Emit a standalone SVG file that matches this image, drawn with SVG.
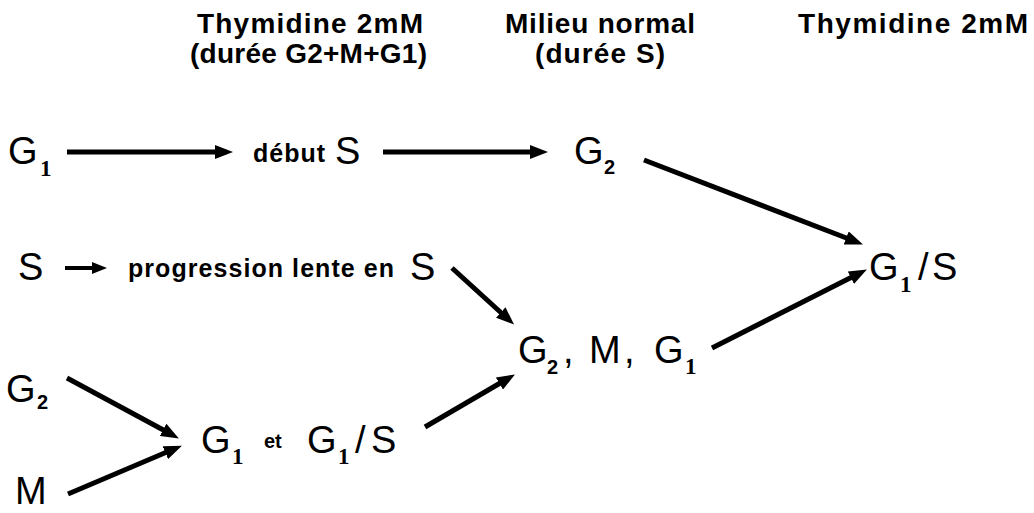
<svg xmlns="http://www.w3.org/2000/svg" width="1034" height="513" viewBox="0 0 1034 513">
<style>
.hd{font-family:"Liberation Sans",Arial,sans-serif;font-weight:bold;font-size:28px;fill:#000}
.big{font-family:"Liberation Sans",Arial,sans-serif;font-size:38px;fill:#000}
.sm{font-family:"Liberation Sans",Arial,sans-serif;font-weight:bold;font-size:25px;fill:#000}
.sub1{font-family:"Liberation Serif","Times New Roman",serif;font-weight:bold;font-size:23px;fill:#000}
.sub2{font-family:"Liberation Sans",Arial,sans-serif;font-weight:bold;font-size:20px;fill:#000}
.ar{stroke:#000;stroke-width:5;fill:none;marker-end:url(#ah)}
.ar2{stroke:#000;stroke-width:4;fill:none;marker-end:url(#ah2)}
</style>
<defs>
<marker id="ah" markerUnits="userSpaceOnUse" markerWidth="18" markerHeight="14" refX="3" refY="7" orient="auto">
<path d="M0,0 L18,7 L0,14 Z" fill="#000"/>
</marker>
<marker id="ah2" markerUnits="userSpaceOnUse" markerWidth="15" markerHeight="12" refX="3" refY="6" orient="auto">
<path d="M0,0 L15,6 L0,12 Z" fill="#000"/>
</marker>
</defs>
<g id="headers">
<text class="hd" x="197" y="33" textLength="226" lengthAdjust="spacing">Thymidine 2mM</text>
<text class="hd" x="190" y="63" textLength="237" lengthAdjust="spacing">(durée G2+M+G1)</text>
<text class="hd" x="505" y="33" textLength="190" lengthAdjust="spacing">Milieu normal</text>
<text class="hd" x="535" y="63" textLength="130" lengthAdjust="spacing">(durée S)</text>
<text class="hd" x="798" y="33" textLength="230" lengthAdjust="spacing">Thymidine 2mM</text>
</g>
<g id="connectors">
<path class="ar" d="M67,152 L218,152"/>
<path class="ar" d="M383,152 L533,152"/>
<path class="ar" d="M644,160 L849,239"/>
<path class="ar2" d="M65,268 L95,268"/>
<path class="ar" d="M452,268 L503,314.5"/>
<path class="ar" d="M67,378 L165.7,431.3"/>
<path class="ar" d="M68,494 L168.1,451.5"/>
<path class="ar" d="M425,427 L502,382"/>
<path class="ar" d="M712,348 L853.5,276.3"/>
</g>
<g id="n-g1-top">
<text class="big" x="8" y="164">G</text><text class="sub1" x="40" y="176">1</text>
</g>
<g id="n-debut-s">
<text class="sm" x="253" y="162" textLength="72" lengthAdjust="spacing">début</text>
<text class="big" x="335" y="164">S</text>
</g>
<g id="n-g2-top">
<text class="big" x="574" y="164">G</text><text class="sub2" x="604" y="174">2</text>
</g>
<g id="n-s-mid">
<text class="big" x="18" y="280">S</text>
</g>
<g id="n-progression">
<text class="sm" x="128" y="277" textLength="266" lengthAdjust="spacing">progression lente en</text>
<text class="big" x="410" y="280">S</text>
</g>
<g id="n-g1s-right">
<text class="big" x="869" y="280">G</text><text class="sub1" x="900" y="292">1</text>
<text class="big" x="918" y="280">/</text><text class="big" x="932" y="280">S</text>
</g>
<g id="n-g2mg1">
<text class="big" x="518" y="363">G</text><text class="sub2" x="547" y="374">2</text>
<text class="big" x="563" y="363">,</text>
<text class="big" x="589" y="363">M</text><text class="big" x="624" y="363">,</text>
<text class="big" x="654" y="363">G</text><text class="sub1" x="685" y="374">1</text>
</g>
<g id="n-g2-bottom">
<text class="big" x="6" y="402">G</text><text class="sub2" x="37" y="409">2</text>
</g>
<g id="n-m-bottom">
<text class="big" x="15" y="504">M</text>
</g>
<g id="n-g1etg1s">
<text class="big" x="201" y="453">G</text><text class="sub1" x="232" y="464">1</text>
<text class="sm" x="264" y="448" style="font-size:20px">et</text>
<text class="big" x="307" y="453">G</text><text class="sub1" x="338" y="464">1</text>
<text class="big" x="355" y="453">/</text><text class="big" x="371" y="453">S</text>
</g>
</svg>
